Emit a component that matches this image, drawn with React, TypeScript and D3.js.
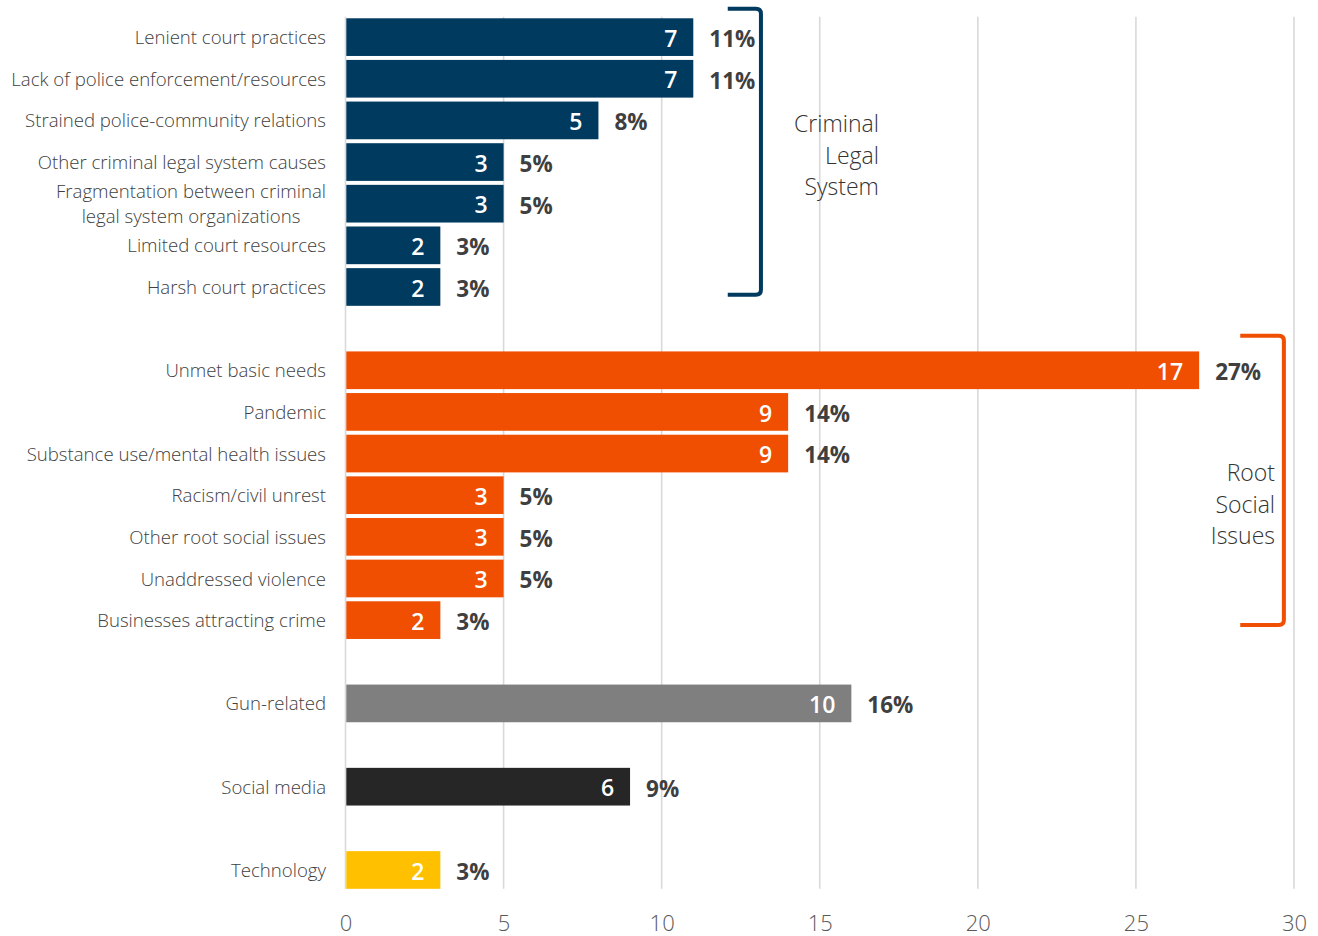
import React, { useEffect, useRef } from "react";
import * as d3 from "d3";

// ---------- DATA ----------
const criminalCategories = [
  "Lenient court practices",
  "Lack of police enforcement/resources",
  "Strained police-community relations",
  "Other criminal legal system causes",
  "Fragmentation between criminal|legal system organizations",
  "Limited court resources",
  "Harsh court practices",
];
const criminalCounts = [7, 7, 5, 3, 3, 2, 2];
const criminalPercents = [11, 11, 8, 5, 5, 3, 3];

const socialCategories = [
  "Unmet basic needs",
  "Pandemic",
  "Substance use/mental health issues",
  "Racism/civil unrest",
  "Other root social issues",
  "Unaddressed violence",
  "Businesses attracting crime",
];
const socialCounts = [17, 9, 9, 3, 3, 3, 2];
const socialPercents = [27, 14, 14, 5, 5, 5, 3];

const gunCategories = ["Gun-related"];
const gunCounts = [10];
const gunPercents = [16];

const mediaCategories = ["Social media"];
const mediaCounts = [6];
const mediaPercents = [9];

const techCategories = ["Technology"];
const techCounts = [2];
const techPercents = [3];

const xTicks = [0, 5, 10, 15, 20, 25, 30];

const groupLabels = [
  { lines: ["Criminal", "Legal", "System"] },
  { lines: ["Root", "Social", "Issues"] },
];

// ---------- STYLE ----------
const COLORS = {
  criminal: "#003a5f",
  social: "#f04e00",
  gun: "#7f7f7f",
  media: "#262626",
  tech: "#ffc000",
};
const FONT = "'Open Sans', 'Noto Sans', sans-serif";

type Row = {
  key: string;
  label: string;
  count: number | null;
  pct: number | null;
  color: string;
};

export default function App() {
  const ref = useRef<SVGSVGElement>(null);

  useEffect(() => {
    document.body.style.margin = "0";
    const svg = d3.select(ref.current!);
    svg.selectAll("*").remove();

    const rows: Row[] = [];
    let gapN = 0;
    const addGroup = (cats: string[], counts: number[], pcts: number[], color: string) =>
      cats.forEach((c, i) =>
        rows.push({ key: c, label: c, count: counts[i], pct: pcts[i], color })
      );
    const addGap = () =>
      rows.push({ key: "__gap" + gapN++, label: "", count: null, pct: null, color: "none" });

    addGroup(criminalCategories, criminalCounts, criminalPercents, COLORS.criminal);
    addGap();
    addGroup(socialCategories, socialCounts, socialPercents, COLORS.social);
    addGap();
    addGroup(gunCategories, gunCounts, gunPercents, COLORS.gun);
    addGap();
    addGroup(mediaCategories, mediaCounts, mediaPercents, COLORS.media);
    addGap();
    addGroup(techCategories, techCounts, techPercents, COLORS.tech);

    const x = d3.scaleLinear().domain([0, 30]).range([345.5, 1294]);
    const y = d3
      .scaleBand<string>()
      .domain(rows.map((r) => r.key))
      .range([16.3, 890.8])
      .paddingInner(0.095)
      .paddingOuter(0.0475);
    const bw = y.bandwidth();
    const firstTop = y(rows[0].key)!;
    const lastBottom = y(rows[rows.length - 1].key)! + bw;

    // grid lines
    svg
      .append("g")
      .selectAll("line")
      .data(xTicks)
      .join("line")
      .attr("x1", (d) => x(d))
      .attr("x2", (d) => x(d))
      .attr("y1", firstTop - 1.5)
      .attr("y2", lastBottom)
      .attr("stroke", "#d9d9d9")
      .attr("stroke-width", 1.6);

    // axis
    const axis = d3
      .axisBottom(x)
      .tickValues(xTicks)
      .tickSize(0)
      .tickPadding(27)
      .tickFormat((d) => String(d));
    const ag = svg
      .append("g")
      .attr("transform", `translate(0,${lastBottom})`)
      .call(axis);
    ag.select(".domain").remove();
    ag.selectAll("text")
      .attr("font-family", FONT)
      .attr("font-weight", 300)
      .attr("font-size", 22)
      .attr("fill", "#595959");

    const dataRows = rows.filter((r) => r.count !== null);

    // bars
    svg
      .append("g")
      .selectAll("rect")
      .data(dataRows)
      .join("rect")
      .attr("x", x(0) + 0.8)
      .attr("y", (d) => y(d.key)!)
      .attr("width", (d) => x(d.pct!) - x(0) - 0.8)
      .attr("height", bw)
      .attr("fill", (d) => d.color);

    // count labels inside
    svg
      .append("g")
      .selectAll("text")
      .data(dataRows)
      .join("text")
      .attr("x", (d) => x(d.pct!) - 16)
      .attr("y", (d) => y(d.key)! + bw / 2)
      .attr("dy", "0.42em")
      .attr("text-anchor", "end")
      .attr("font-family", FONT)
      .attr("font-weight", 600)
      .attr("font-size", 23)
      .attr("fill", "#ffffff")
      .text((d) => String(d.count));

    // percent labels outside
    svg
      .append("g")
      .selectAll("text")
      .data(dataRows)
      .join("text")
      .attr("x", (d) => x(d.pct!) + 16)
      .attr("y", (d) => y(d.key)! + bw / 2)
      .attr("dy", "0.44em")
      .attr("text-anchor", "start")
      .attr("font-family", FONT)
      .attr("font-weight", 700)
      .attr("font-size", 22.5)
      .attr("fill", "#3f3f3f")
      .text((d) => d.pct + "%");

    // category labels
    const labelX = 326;
    const LFS = 18.6;
    const lg = svg.append("g");
    dataRows.forEach((d) => {
      const cy = y(d.key)! + bw / 2;
      const parts = d.label.split("|");
      if (parts.length === 1) {
        lg.append("text")
          .attr("x", labelX)
          .attr("y", cy)
          .attr("dy", "0.38em")
          .attr("text-anchor", "end")
          .attr("font-family", FONT)
          .attr("font-weight", 300)
          .attr("font-size", LFS)
          .attr("fill", "#404040")
          .text(parts[0]);
      } else {
        const t1 = lg
          .append("text")
          .attr("x", labelX)
          .attr("y", cy - 12.5)
          .attr("dy", "0.38em")
          .attr("text-anchor", "end")
          .attr("font-family", FONT)
          .attr("font-weight", 300)
          .attr("font-size", LFS)
          .attr("fill", "#404040")
          .text(parts[0]);
        const w1 = (t1.node() as SVGTextElement).getComputedTextLength();
        lg.append("text")
          .attr("x", labelX - w1 / 2)
          .attr("y", cy + 12.5)
          .attr("dy", "0.38em")
          .attr("text-anchor", "middle")
          .attr("font-family", FONT)
          .attr("font-weight", 300)
          .attr("font-size", LFS)
          .attr("fill", "#404040")
          .text(parts[1]);
      }
    });

    // brackets
    const brackets = [
      {
        first: criminalCategories[0],
        last: criminalCategories[criminalCategories.length - 1],
        xl: 12.09,
        xr: 13.14,
        topOff: -9.5,
        botOff: -11,
        color: COLORS.criminal,
        label: groupLabels[0],
        labelX: 16.87,
        labelMidY: () => y(criminalCategories[3])! + bw / 2 + 1.5,
      },
      {
        first: socialCategories[0],
        last: socialCategories[socialCategories.length - 1],
        xl: 28.3,
        xr: 29.68,
        topOff: -15.7,
        botOff: -14,
        color: COLORS.social,
        label: groupLabels[1],
        labelX: 29.4,
        labelMidY: () =>
          (y(socialCategories[3])! + y(socialCategories[4])!) / 2 + bw / 2 - 3.5,
      },
    ];
    brackets.forEach((b) => {
      const top = y(b.first)! + b.topOff;
      const bot = y(b.last)! + bw + b.botOff;
      const xl = x(b.xl);
      const xr = x(b.xr);
      const r = 5;
      const p = d3.path();
      p.moveTo(xl, top);
      p.lineTo(xr - r, top);
      p.quadraticCurveTo(xr, top, xr, top + r);
      p.lineTo(xr, bot - r);
      p.quadraticCurveTo(xr, bot, xr - r, bot);
      p.lineTo(xl, bot);
      svg
        .append("path")
        .attr("d", p.toString())
        .attr("fill", "none")
        .attr("stroke", b.color)
        .attr("stroke-width", 4);

      const mid = b.labelMidY();
      const gl = svg
        .append("text")
        .attr("text-anchor", "end")
        .attr("font-family", FONT)
        .attr("font-weight", 300)
        .attr("font-size", 23)
        .attr("fill", "#333333");
      b.label.lines.forEach((ln, i) => {
        gl.append("tspan")
          .attr("x", x(b.labelX))
          .attr("y", mid + (i - 1) * 31.5)
          .text(ln);
      });
    });
  }, []);

  return (
    <svg
      ref={ref}
      width={1318}
      height={936}
      style={{ display: "block", background: "#ffffff" }}
    />
  );
}
